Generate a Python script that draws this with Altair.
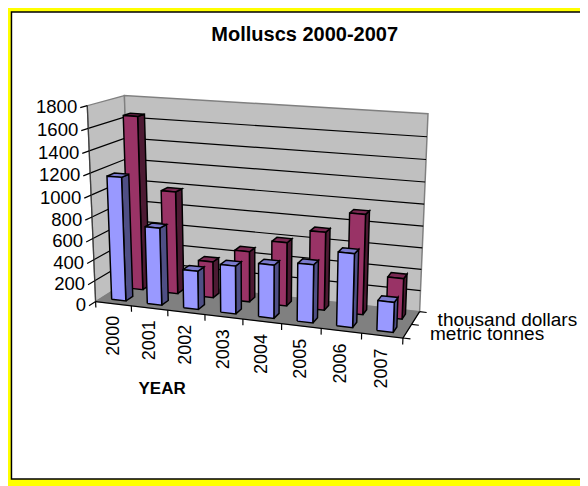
import numpy as np
import pandas as pd
import altair as alt

years = ["2000", "2001", "2002", "2003", "2004", "2005", "2006", "2007"]
metric_tonnes = [1160, 725, 360, 445, 490, 530, 665, 270]
thousand_dollars = [1655, 980, 347, 480, 600, 730, 925, 375]
series_names = ["metric tonnes", "thousand dollars"]
value_ticks = [0, 200, 400, 600, 800, 1000, 1200, 1400, 1600, 1800]
VMAX = 1800.0

# Camera: fitted from where the corners of the 3D box fall on the picture.
world = [(0,0,0),(8,0,0),(8,2,0),(0,2,0),(0,0,1),(0,2,1),(8,2,1)]
image = [(95.5,300.5),(402.7,339.3),(419.3,310.7),(130.5,281),(87.3,106),(124.3,95.3),(427.7,114)]
A = []
for (u,v,w),(px,py) in zip(world,image):
    X=[u/8,v/2,w,1]; px/=100; py/=100
    A.append(X+[0,0,0,0]+[-px*c for c in X])
    A.append([0,0,0,0]+X+[-py*c for c in X])
P = np.linalg.svd(np.array(A))[2][-1].reshape(3,4)
def proj(u,v,w):
    h = P @ np.array([u/8,v/2,w,1.0])
    return float(100*h[0]/h[2]), float(100*h[1]/h[2])

rows=[]; pid=[0]
def shape(pts, fill="transparent", stroke="#000000", sw=1.4, close=True):
    pid[0]+=1
    seq=list(pts)+([pts[0]] if close else [])
    for k,p in enumerate(seq):
        x,y=proj(*p)
        rows.append(dict(x=x,y=y,k=k,id=f"s{pid[0]:04d}",fill=fill,stroke=stroke,sw=sw))

GRAY="#808080"
shape([(0,0,0),(0,2,0),(0,2,1),(0,0,1)],fill="#c0c0c0",stroke=GRAY,sw=1.3)
shape([(0,2,0),(8,2,0),(8,2,1),(0,2,1)],fill="#c0c0c0",stroke=GRAY,sw=1.5)
for t in value_ticks[1:-1]:
    w=t/VMAX
    shape([(0,0,w),(0,2,w),(8,2,w)],close=False,sw=1.2)
shape([(0,0,0),(8,0,0),(8,2,0),(0,2,0)],fill=GRAY,stroke=GRAY,sw=0.5)
# axis lines and ticks
shape([(0,0,0),(0,0,1)],close=False,stroke="#404040",sw=1.3)
shape([(0,0,0),(8,0,0),(8,2,0)],close=False,sw=1.3)
for t in value_ticks:
    shape([(0,0,t/VMAX),(0,-0.35,t/VMAX)],close=False,sw=1.2)
for i in range(9):
    shape([(i,0,0),(i,0,-0.032)],close=False,sw=1.2)
for s in range(3):
    shape([(8,s,0),(8.18,s,0)],close=False,sw=1.2)

palette=[("#9999ff","#4f4f85","#7a7acc"),("#993366","#4d1a33","#7a2952")]
for s,vals in reversed(list(enumerate([metric_tonnes,thousand_dollars]))):
    front,side,top=palette[s]
    for i,val in enumerate(vals):
        u0,u1=i+.3,i+.7; v0,v1=s+.3,s+.7; w=val/VMAX
        shape([(u1,v0,0),(u1,v1,0),(u1,v1,w),(u1,v0,w)],fill=side,sw=1.5)
        shape([(u0,v0,w),(u1,v0,w),(u1,v1,w),(u0,v1,w)],fill=top,sw=1.5)
        shape([(u0,v0,0),(u1,v0,0),(u1,v0,w),(u0,v0,w)],fill=front,sw=1.5)

xs=alt.Scale(domain=[8.04,579.6],nice=False,zero=False)
ys=alt.Scale(domain=[482.9,11.39],nice=False,zero=False)
X=alt.X("x:Q",scale=xs,axis=None)
Y=alt.Y("y:Q",scale=ys,axis=None)
FONT="Liberation Sans"

panel=alt.Chart(pd.DataFrame([dict(x=11.5,x2=600,y=12,y2=479.3)])).mark_rect(
    fill="#ffffff",stroke="#000000",strokeWidth=1.5).encode(x=X,x2="x2:Q",y=Y,y2="y2:Q")

polys=alt.Chart(pd.DataFrame(rows)).mark_line(strokeJoin="miter").encode(
    x=X,y=Y,order="k:Q",detail="id:N",
    fill=alt.Fill("fill:N",scale=None),
    stroke=alt.Stroke("stroke:N",scale=None),
    strokeWidth=alt.StrokeWidth("sw:Q",scale=None))

vl=[]
for t in value_ticks:
    x,y=proj(0,-0.35,t/VMAX)
    vl.append(dict(x=x-3,y=y-0.5,t=str(t)))
vlab=alt.Chart(pd.DataFrame(vl)).mark_text(align="right",baseline="middle",font=FONT,fontSize=18.8,color="#000000").encode(x=X,y=Y,text="t:N")

yl=[]
for i,name in enumerate(years):
    x,y=proj(i+.5,0,-0.065)
    yl.append(dict(x=x,y=y,t=name))
ylab=alt.Chart(pd.DataFrame(yl)).mark_text(align="right",baseline="middle",angle=270,font=FONT,fontSize=18.25,color="#000000").encode(x=X,y=Y,text="t:N")

sl=[]
for s,name in enumerate(series_names):
    x,y=proj(8.55,s+.5,0)
    sl.append(dict(x=x,y=y,t=name))
slab=alt.Chart(pd.DataFrame(sl)).mark_text(align="left",baseline="middle",font=FONT,fontSize=19.3,color="#000000").encode(x=X,y=Y,text="t:N")

title=alt.Chart(pd.DataFrame([dict(x=304.5,y=35,t="Molluscs 2000-2007")])).mark_text(
    align="center",baseline="middle",font=FONT,fontWeight="bold",fontSize=20.3,color="#000000").encode(x=X,y=Y,text="t:N")
xtitle=alt.Chart(pd.DataFrame([dict(x=162,y=389,t="YEAR")])).mark_text(
    align="center",baseline="middle",font=FONT,fontWeight="bold",fontSize=17.2,color="#000000").encode(x=X,y=Y,text="t:N")

chart=alt.layer(panel,polys,vlab,ylab,slab,title,xtitle).properties(
    width=580,height=478,padding=0,background="#ffff00",
    autosize=alt.AutoSizeParams(type="none"),
    usermeta={"embedOptions":{"defaultStyle":"body{background:#ffff00;overflow:hidden}"}}
).configure_view(stroke=None)
chart.save("out.html",embed_options={"renderer":"svg","actions":False})
